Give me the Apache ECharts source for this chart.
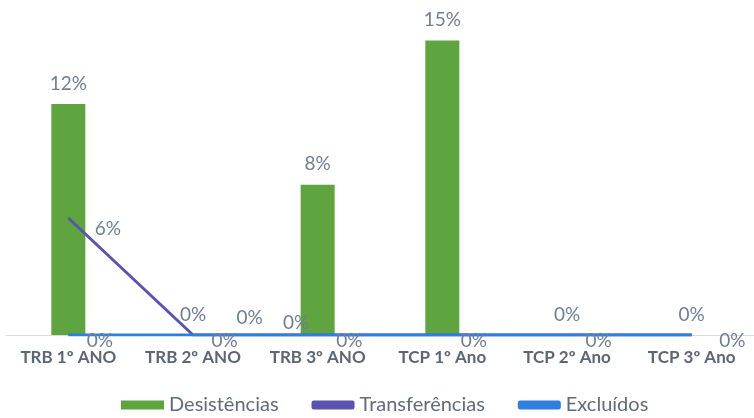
<!DOCTYPE html>
<html>
<head>
<meta charset="utf-8">
<script src="https://cdn.jsdelivr.net/npm/echarts@6/dist/echarts.min.js"></script>
<style>
  html, body { margin: 0; padding: 0; background: #fff; }
  #chart { width: 754px; height: 418px; }
</style>
</head>
<body>
<div id="chart"></div>
<script>
var categories = ['TRB 1º ANO', 'TRB 2º ANO', 'TRB 3º ANO', 'TCP 1º Ano', 'TCP 2º Ano', 'TCP 3º Ano'];
var desistencias = [11.85, 0, 7.7, 15.1, 0, 0];
var transferencias = [6, 0, 0, 0, 0, 0];
var excluidos = [0, 0, 0, 0, 0, 0];

var labelColor = '#6e7f93';
var fontName = 'Lato';

function pct(p) { return Math.round(p.value) + '%'; }

// only the first labels of Transferências are visible in the picture
var transfData = transferencias.map(function (v, i) {
  if (i === 0) return { value: v, label: { show: true, position: 'right', offset: [21, 11] } };
  if (i === 1) return { value: v, label: { show: true, position: 'right', offset: [38, -17] } };
  if (i === 2) return { value: v, label: { show: true, position: 'left', offset: [-3, -12] } };
  return { value: v, label: { show: false } };
});

var exclData = excluidos.map(function (v, i) {
  return { value: v, label: { show: true, position: 'right', offset: [i === 5 ? 22 : 13, 6] } };
});

var chart = echarts.init(document.getElementById('chart'));
chart.setOption({
  animation: false,
  textStyle: { fontFamily: fontName },
  grid: { left: 6, width: 754, top: 23, bottom: 83, containLabel: false },
  legend: {
    bottom: -2,
    left: 116,
    itemWidth: 43,
    itemHeight: 9,
    itemGap: 33,
    textStyle: { fontSize: 20, color: '#5f6c7b', fontFamily: fontName },
    data: [
      { name: 'Desistências', icon: 'rect' },
      { name: 'Transferências', icon: 'roundRect' },
      { name: 'Excluídos', icon: 'roundRect' }
    ]
  },
  xAxis: {
    type: 'category',
    data: categories,
    axisLine: { lineStyle: { color: '#d9dde3', width: 1 } },
    axisTick: { show: false },
    axisLabel: { interval: 0, color: '#5b6774', fontSize: 17, fontWeight: 'bold', margin: 14, fontFamily: fontName }
  },
  yAxis: {
    type: 'value',
    min: 0,
    max: 16,
    show: false,
    splitLine: { show: false }
  },
  series: [
    {
      name: 'Desistências',
      type: 'bar',
      barWidth: 34,
      data: desistencias,
      itemStyle: { color: '#5ea43f' },
      z: 2,
      label: {
        show: true,
        position: 'top',
        distance: 11,
        color: labelColor,
        fontSize: 19,
        fontFamily: fontName,
        formatter: pct
      }
    },
    {
      name: 'Transferências',
      type: 'line',
      data: transfData,
      symbol: 'circle',
      symbolSize: 1,
      lineStyle: { color: '#5a54b0', width: 3 },
      itemStyle: { color: '#5a54b0' },
      z: 3,
      label: { color: labelColor, fontSize: 19, fontFamily: fontName, formatter: pct }
    },
    {
      name: 'Excluídos',
      type: 'line',
      data: exclData,
      symbol: 'circle',
      symbolSize: 1,
      lineStyle: { color: '#2e7fdf', width: 3 },
      itemStyle: { color: '#2e7fdf' },
      z: 4,
      label: {
        color: labelColor,
        fontSize: 19,
        fontFamily: fontName,
        formatter: pct
      }
    }
  ]
});
</script>
</body>
</html>
